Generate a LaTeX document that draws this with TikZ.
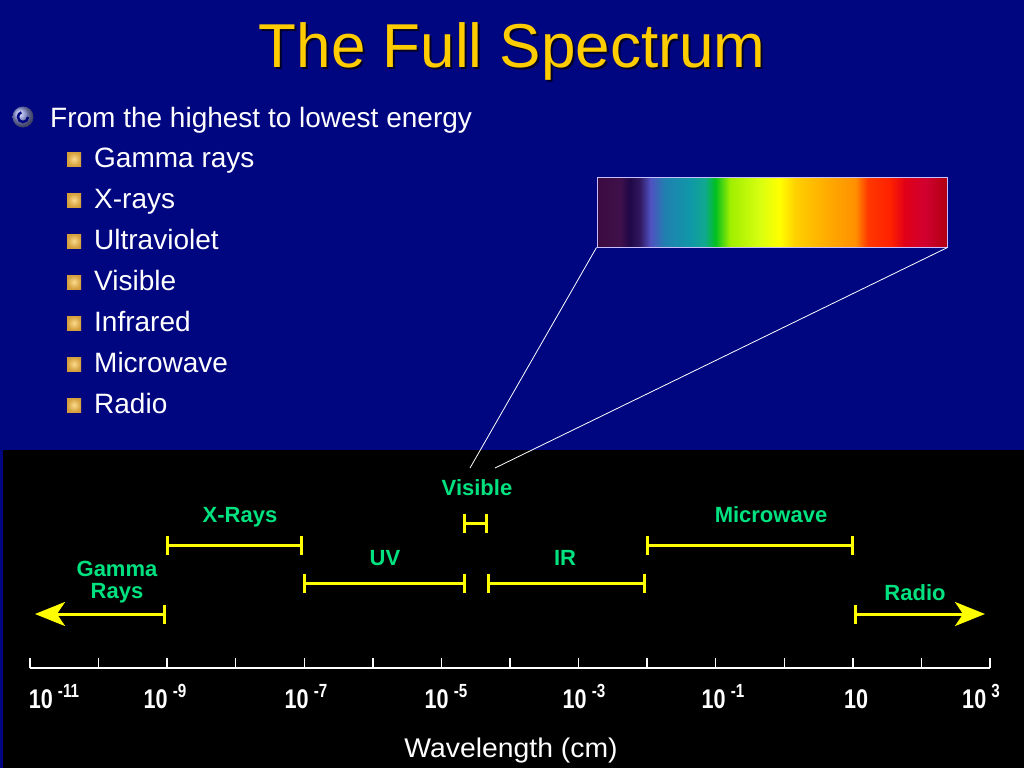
\documentclass[tikz,border=0pt]{standalone}
\usepackage{fontspec}
\setmainfont{Liberation Sans}
\usetikzlibrary{calc}
\usetikzlibrary{arrows.meta}
\usetikzlibrary{positioning}

\definecolor{slideblue}{RGB}{0,6,128}
\definecolor{titleyellow}{RGB}{255,204,0}
\definecolor{bandyellow}{RGB}{255,255,0}
\definecolor{labelgreen}{RGB}{0,226,128}
\definecolor{boxedge}{RGB}{200,190,255}
\definecolor{goldlight}{RGB}{250,218,140}
\definecolor{golddark}{RGB}{212,158,60}
\definecolor{textshade}{RGB}{0,0,40}
%% colours of the visible band
\definecolor{sp00}{HTML}{3A0A40}
\definecolor{sp01}{HTML}{40104A}
\definecolor{sp02}{HTML}{200848}
\definecolor{sp03}{HTML}{301860}
\definecolor{sp04}{HTML}{5050C0}
\definecolor{sp05}{HTML}{2080B0}
\definecolor{sp06}{HTML}{1098A8}
\definecolor{sp07}{HTML}{10A890}
\definecolor{sp08}{HTML}{00C020}
\definecolor{sp09}{HTML}{A0EE00}
\definecolor{sp10}{HTML}{D8FF10}
\definecolor{sp11}{HTML}{FFFF00}
\definecolor{sp12}{HTML}{FFD000}
\definecolor{sp13}{HTML}{FFA800}
\definecolor{sp14}{HTML}{FF9000}
\definecolor{sp15}{HTML}{FF3800}
\definecolor{sp16}{HTML}{FF2000}
\definecolor{sp17}{HTML}{E00018}
\definecolor{sp18}{HTML}{D00030}
\definecolor{sp19}{HTML}{B00010}
\pgfdeclarehorizontalshading{visspec}{100bp}{color(0bp)=(sp00); color(25bp)=(sp00);
  color(28.3bp)=(sp01); color(29.7bp)=(sp02); color(31.1bp)=(sp03); color(32.6bp)=(sp04);
  color(34.7bp)=(sp05); color(38.3bp)=(sp06); color(40.4bp)=(sp07); color(41.9bp)=(sp08);
  color(44bp)=(sp09); color(48.3bp)=(sp10); color(51.1bp)=(sp11); color(53.3bp)=(sp12);
  color(58.3bp)=(sp13); color(61.9bp)=(sp14); color(63.7bp)=(sp15); color(66.9bp)=(sp16);
  color(69bp)=(sp17); color(71.9bp)=(sp18); color(75bp)=(sp19); color(100bp)=(sp19)}

\newcommand\axisfont{\bfseries\fontsize{27}{27}\selectfont}
\newcommand\tenexp[1]{10\raisebox{0.38em}{\fontsize{19}{19}\selectfont\,\,#1}}

\begin{document}
\begin{tikzpicture}[x=1pt,y=-1pt,
  band/.style={draw=bandyellow, line width=3pt, arrows={Bar[width=19pt]-Bar[width=19pt]}},
  bandlabel/.style={text=labelgreen, font=\bfseries\fontsize{22}{22}\selectfont, anchor=base, inner sep=0pt, align=center},
  item/.style={text=white, font=\fontsize{28}{28}\selectfont, anchor=base west, inner sep=0pt},
  sqbullet/.style={minimum size=14pt, inner sep=0pt, inner color=goldlight, outer color=golddark},
  ticklabel/.style={text=white, font=\axisfont, anchor=base, inner sep=0pt, xscale=0.8}]

  %% slide and lower panel
  \fill[slideblue] (0,0) rectangle (1024,768);
  \useasboundingbox (0,0) rectangle (1024,768);
  \fill[black] (3,450) rectangle (1024,768);

  \node[text=textshade, font=\fontsize{62}{62}\selectfont, anchor=base, inner sep=0pt] (titleshade) at (514,69) {The Full Spectrum};
  \node[text=titleyellow, font=\fontsize{62}{62}\selectfont, anchor=base, inner sep=0pt] (title) at (512,67) {The Full Spectrum};

  %% bullet list
  \node[circle, minimum size=21pt, inner sep=0pt, ball color={rgb,255:red,140;green,150;blue,220}] (swirl) at (23,117) {};
  \draw[slideblue, line width=2.5pt] ($(swirl)+(5,0)$) arc[start angle=0, end angle=250, radius=5];
  \node[item] (lead) at (50,127) {From the highest to lowest energy};
  \foreach \t [count=\k] in {Gamma rays, X-rays, Ultraviolet, Visible, Infrared, Microwave, Radio}{
    \node[item] (item\k) at (94,{126+41*\k}) {\t};
    \node[sqbullet] (sq\k) at (74,{118+41*\k}) {};
  }

  %% visible band blown up
  \node[draw=boxedge, line width=1pt, shading=visspec, minimum width=350pt, minimum height=70pt, inner sep=0pt] (spec) at (772,212) {};
  \coordinate (visA) at (470,468);
  \coordinate (visB) at (495,468);
  \draw[white, line width=0.8pt] (spec.south west) -- (visA);
  \draw[white, line width=0.8pt] (spec.south east) -- (visB);

  %% band labels
  \node[bandlabel] (vislab) at (477,495) {Visible};
  \node[bandlabel] (xlab) at (240,522) {X-Rays};
  \node[bandlabel] (uvlab) at (385,565) {UV};
  \node[bandlabel] (irlab) at (565,565) {IR};
  \node[bandlabel] (mwlab) at (771,522) {Microwave};
  \node[bandlabel, anchor=center] (gamlab) at (117,582) {Gamma\\[0pt]Rays};
  \node[bandlabel] (radlab) at (915,600) {Radio};

  %% band ranges
  \coordinate (xL) at (166,545);  \coordinate (xR) at (303,545);
  \coordinate (uvL) at (303,583); \coordinate (uvR) at (466,583);
  \coordinate (visL) at (463,523); \coordinate (visR) at (488,523);
  \coordinate (irL) at (487,583); \coordinate (irR) at (646,583);
  \coordinate (mwL) at (646,545); \coordinate (mwR) at (854,545);
  \coordinate (gamR) at (166,614); \coordinate (gamL) at (35,614);
  \coordinate (radL) at (854,614); \coordinate (radR) at (985,614);
  \draw[band] (xL) -- (xR);
  \draw[band] (uvL) -- (uvR);
  \draw[band] (visL) -- (visR);
  \draw[band] (irL) -- (irR);
  \draw[band] (mwL) -- (mwR);
  \draw[band, arrows={Bar[width=19pt]-Stealth[length=30pt,width=24pt,inset=8pt]}] (gamR) -- (gamL);
  \draw[band, arrows={Bar[width=19pt]-Stealth[length=30pt,width=24pt,inset=8pt]}] (radL) -- (radR);

  %% wavelength axis
  \coordinate (axL) at (30,668);
  \coordinate (axR) at (990,668);
  \draw[white, line width=1.5pt] (axL) -- (axR);
  \foreach \i in {0,...,14}
    \draw[white, line width=1.5pt] ($(axL)!\i/14!(axR)$) -- ++(0,-10);
  \foreach \x/\lab [count=\k] in {54/\tenexp{-11}, 165/\tenexp{-9}, 306/\tenexp{-7}, 446/\tenexp{-5}, 584/\tenexp{-3}, 723/\tenexp{-1}, 856/10, 981/\tenexp{3}}
    \node[ticklabel] (dec\k) at (\x,708) {\lab};
  \node[text=white, font=\fontsize{27}{27}\selectfont, anchor=base, inner sep=0pt, xscale=1.05] (wl) at (511,757) {Wavelength (cm)};
\end{tikzpicture}
\end{document}
